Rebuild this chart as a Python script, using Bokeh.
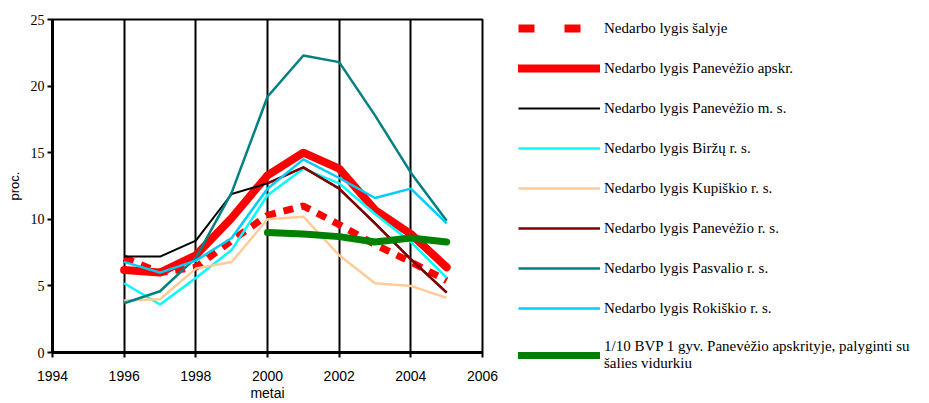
from bokeh.plotting import figure
from bokeh.models import Legend, LegendItem, FixedTicker, Range1d
from bokeh.embed import file_html
from bokeh.resources import INLINE

years = [1996, 1997, 1998, 1999, 2000, 2001, 2002, 2003, 2004, 2005]
salyje = [7.1, 6.0, 6.4, 8.4, 10.3, 11.0, 9.6, 8.1, 6.8, 5.4]
apskr = [6.2, 6.0, 7.3, 10.1, 13.3, 15.0, 13.8, 10.7, 8.9, 6.4]
pan_m = [7.2, 7.2, 8.4, 11.9, 12.7, 13.9, 12.3, 9.7, 7.0, 4.5]
birzu = [5.2, 3.6, 5.6, 7.7, 11.8, 13.8, 12.7, 10.4, 8.3, 5.6]
kupiskio = [3.9, 4.0, 6.3, 6.8, 10.0, 10.2, 7.3, 5.2, 5.0, 4.1]
years_b = [2000, 2001, 2002, 2003, 2004, 2005]
pan_r = [12.7, 13.9, 12.3, 9.7, 7.0, 4.5]
pasvalio = [3.7, 4.6, 7.1, 12.0, 19.2, 22.3, 21.8, 17.8, 13.5, 9.9]
rokiskio = [6.8, 6.0, 6.9, 8.6, 12.3, 14.5, 13.1, 11.6, 12.3, 9.7]
bvp = [9.0, 8.9, 8.7, 8.3, 8.6, 8.3]

x_ticks = [1994, 1996, 1998, 2000, 2002, 2004, 2006]
y_ticks = [0, 5, 10, 15, 20, 25]

labels = [
    "Nedarbo lygis šalyje",
    "Nedarbo lygis Panevėžio apskr.",
    "Nedarbo lygis Panevėžio m. s.",
    "Nedarbo lygis Biržų r. s.",
    "Nedarbo lygis Kupiškio r. s.",
    "Nedarbo lygis Panevėžio r. s.",
    "Nedarbo lygis Pasvalio r. s.",
    "Nedarbo lygis Rokiškio r. s.",
    "1/10 BVP 1 gyv. Panevėžio apskrityje, palyginti su\nšalies vidurkiu",
]

p = figure(width=929, height=403, output_backend="svg", toolbar_location=None,
           x_range=Range1d(1994, 2006), y_range=Range1d(0, 25),
           min_border_left=52, min_border_right=10, min_border_top=19, min_border_bottom=10)
p.frame_width = 430
p.frame_height = 333

p.background_fill_color = "white"
p.border_fill_color = "white"
p.outline_line_color = "black"
p.outline_line_width = 2

p.xaxis.ticker = FixedTicker(ticks=x_ticks)
p.yaxis.ticker = FixedTicker(ticks=y_ticks)
for ax in (p.xaxis[0], p.yaxis[0]):
    ax.axis_line_color = "black"
    ax.axis_line_width = 3
    ax.major_tick_line_color = "black"
    ax.major_tick_line_width = 2
    ax.major_tick_out = 5
    ax.major_tick_in = 0
    ax.minor_tick_line_color = None
    ax.major_label_text_color = "black"
    ax.axis_label_text_color = "black"
    ax.axis_label_text_font_style = "normal"

p.xaxis.major_label_text_font = "Liberation Sans"
p.xaxis.major_label_text_font_size = "14px"
p.xaxis.major_label_standoff = 13
p.xaxis.axis_label = "metai"
p.xaxis.axis_label_text_font = "Liberation Sans"
p.xaxis.axis_label_text_font_size = "14px"
p.xaxis.axis_label_standoff = 1

p.yaxis.major_label_text_font = "Liberation Serif"
p.yaxis.major_label_text_font_size = "14px"
p.yaxis.major_label_standoff = 3
p.yaxis.axis_label = "proc."
p.yaxis.axis_label_text_font = "Liberation Sans"
p.yaxis.axis_label_text_font_size = "13px"
p.yaxis.axis_label_standoff = 6

p.xgrid.ticker = FixedTicker(ticks=x_ticks)
p.xgrid.grid_line_color = "black"
p.xgrid.grid_line_width = 2
p.ygrid.grid_line_color = None

r_sal = p.line(years, salyje, line_color="#FF0000", line_width=7, line_dash="10 8")
r_aps = p.line(years, apskr, line_color="#FF0000", line_width=8, line_join="round", line_cap="round")
r_pm = p.line(years, pan_m, line_color="black", line_width=2, line_join="round")
r_bir = p.line(years, birzu, line_color="#00FFFF", line_width=2.5, line_join="round")
r_kup = p.line(years, kupiskio, line_color="#FFCC99", line_width=2.5, line_join="round")
r_pr = p.line(years_b, pan_r, line_color="#800000", line_width=2.5, line_join="round")
r_pas = p.line(years, pasvalio, line_color="#008080", line_width=2.5, line_join="round")
r_rok = p.line(years, rokiskio, line_color="#00CCFF", line_width=2.5, line_join="round")
r_bvp = p.line(years_b, bvp, line_color="#008000", line_width=7, line_join="round", line_cap="round")

# legend swatch for the dashed series: same series, drawn with the legend's dash style
# but placed off-range so that only its legend glyph is visible
r_sal_leg = p.line(years, salyje, line_color="#FF0000", line_width=8, line_dash="16 30",
                   y_range_name="default", visible=True, alpha=1.0)
r_sal_leg.glyph.line_alpha = 1.0
r_sal_leg.nonselection_glyph = None
from bokeh.models import Range1d as _R
p.extra_y_ranges = {"offscreen": _R(1000, 1025)}
r_sal_leg.y_range_name = "offscreen"

renderers = [r_sal_leg, r_aps, r_pm, r_bir, r_kup, r_pr, r_pas, r_rok, r_bvp]
items = [LegendItem(label=l, renderers=[r]) for l, r in zip(labels, renderers)]
legend = Legend(items=items, location=(36, -20), orientation="vertical",
                padding=0, margin=0, spacing=20, glyph_width=82, glyph_height=20,
                label_height=20, label_standoff=4,
                label_text_font="Liberation Serif", label_text_font_size="15px",
                label_text_color="black",
                border_line_color=None, background_fill_alpha=0)
p.add_layout(legend, "right")

open("out.html", "w").write(file_html(p, INLINE))
